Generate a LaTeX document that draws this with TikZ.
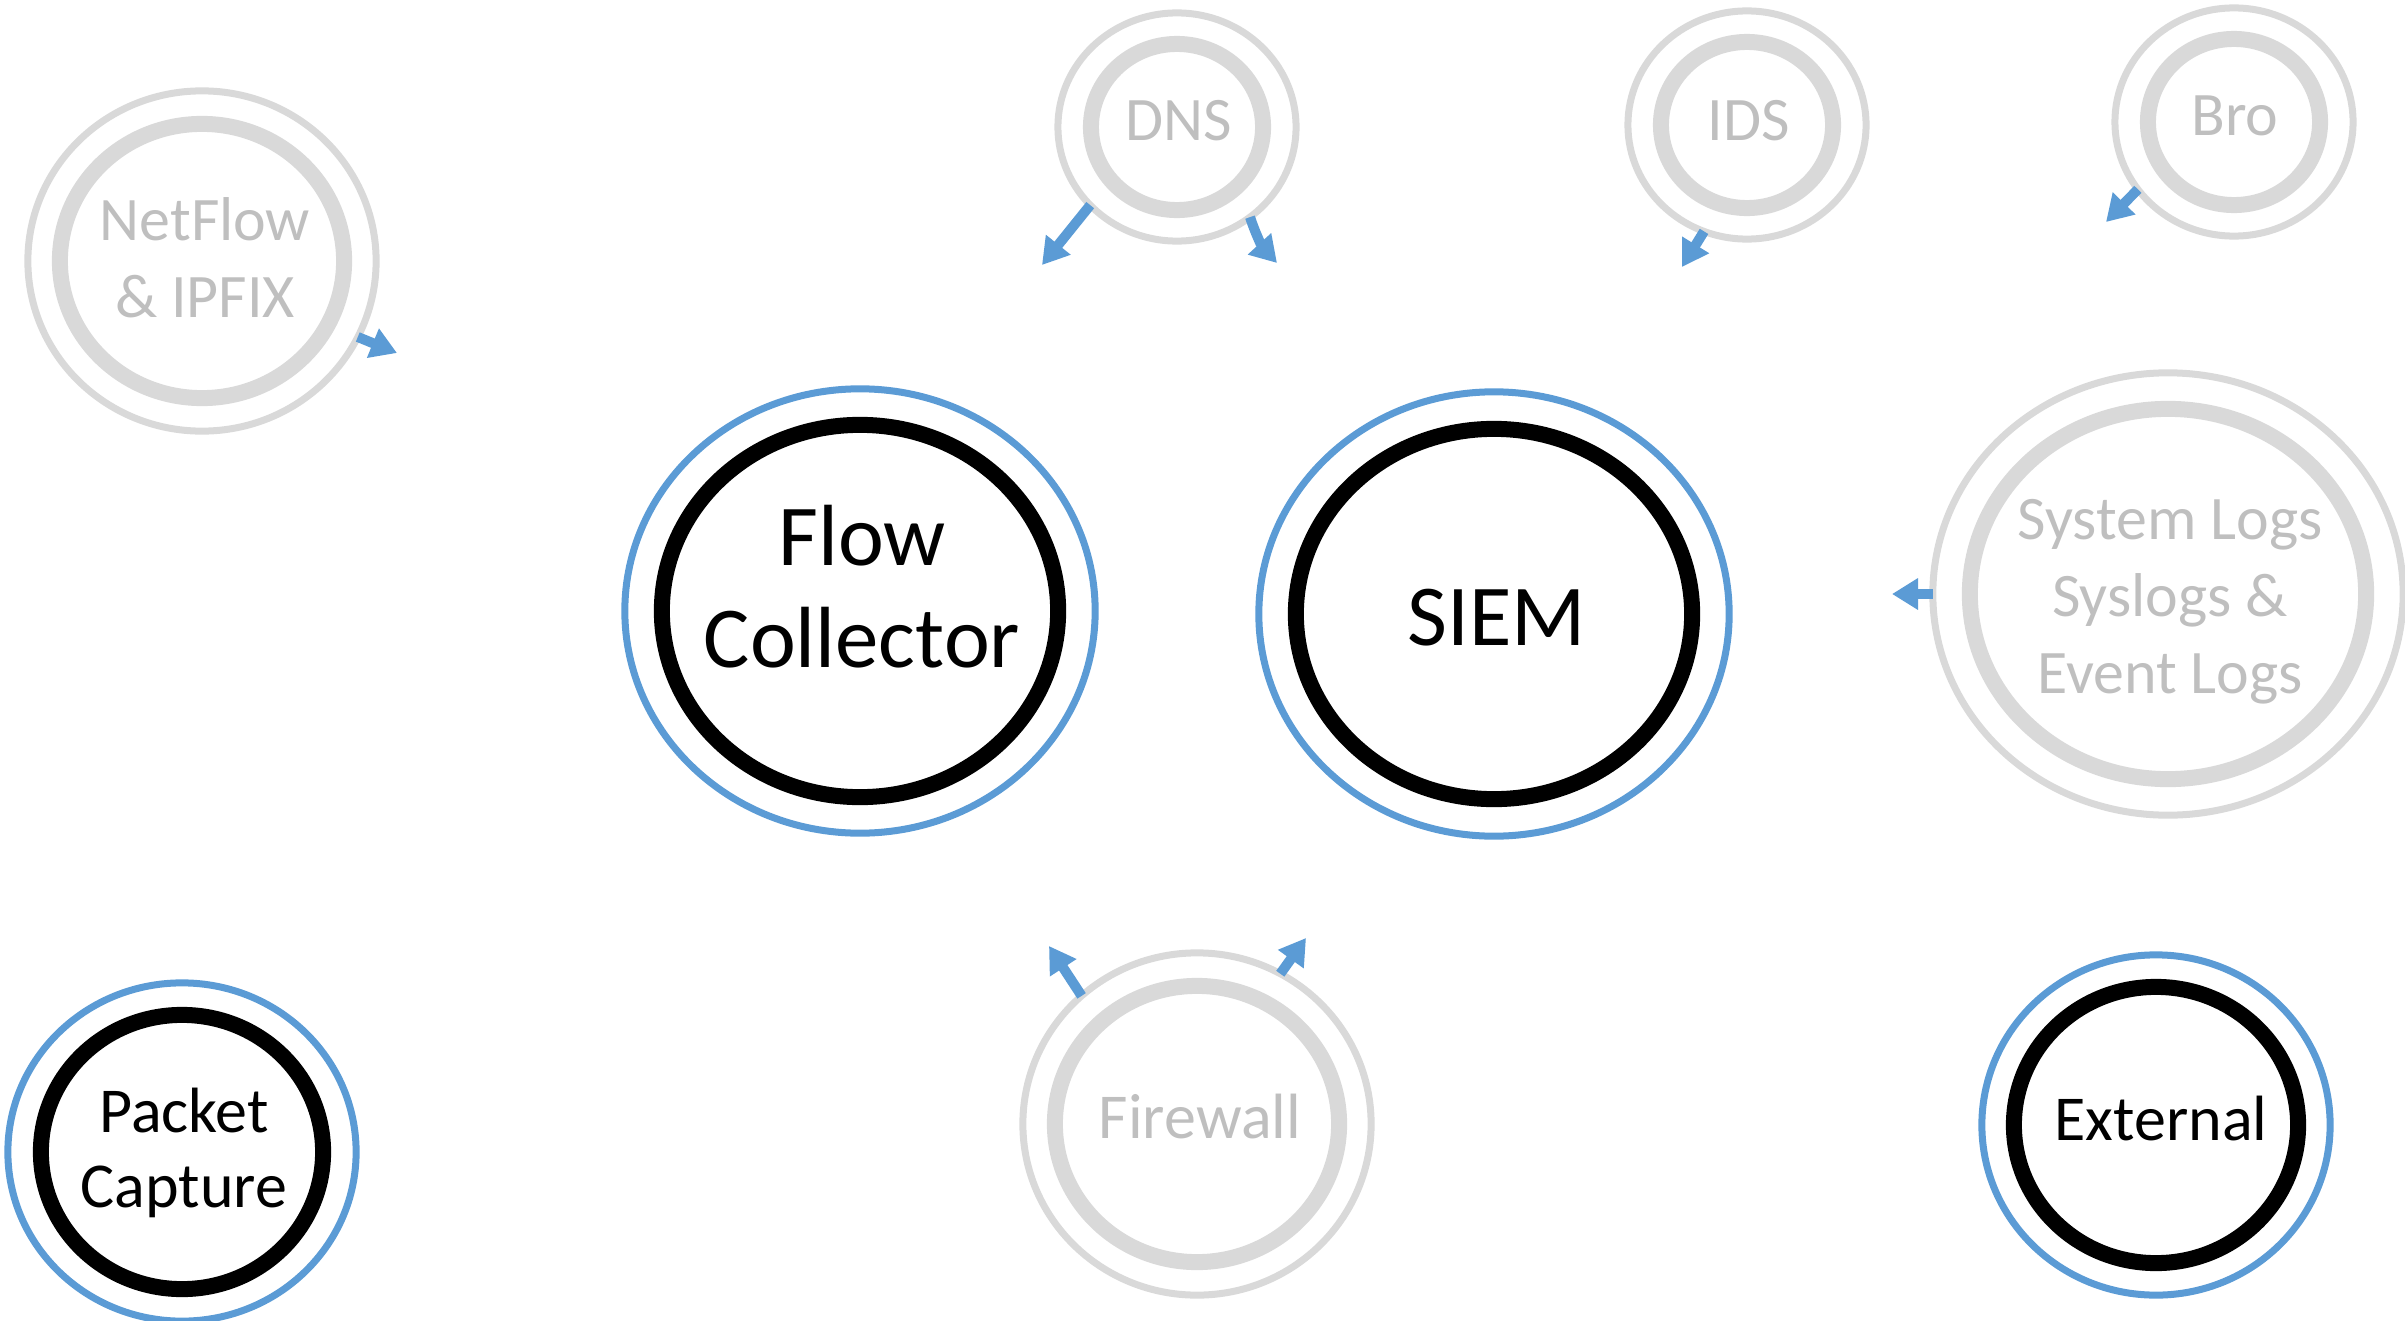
\documentclass[tikz,border=0pt]{standalone}
\usepackage{fontspec}
\setmainfont{Carlito}
\usetikzlibrary{shapes.geometric,arrows.meta}

\definecolor{feedblue}{HTML}{5B9BD5}
\definecolor{ringgray}{HTML}{D9D9D9}
\definecolor{labelgray}{HTML}{BFBFBF}

\tikzset{
  dims/.style 2 args={minimum width=#1*0.02cm, minimum height=#2*0.02cm},
  ring/.style={ellipse, inner sep=0pt, outer sep=0pt},
  srchalo/.style={ring, draw=ringgray, line width=0.07cm},
  srccore/.style={ring, draw=ringgray, line width=0.16cm},
  hubhalo/.style={ring, draw=feedblue, line width=0.07cm},
  hubcore/.style={ring, draw=black, line width=0.16cm},
  srclbl/.style={anchor=base, align=center, text=labelgray, font=\fontsize{17.6}{21.8}\selectfont},
  devlbl/.style={anchor=base, align=center, font=\fontsize{18.2}{21.3}\selectfont},
  hublbl/.style={anchor=base, align=center, font=\fontsize{24.7}{29}\selectfont},
  feed/.style={draw=feedblue, line width=0.1cm, -{Triangle[width=0.3cm,length=0.26cm]}},
}

\begin{document}
\begin{tikzpicture}[x=0.01cm, y=-0.01cm]
\useasboundingbox (0,0) rectangle (2405,1321);

% grey sources
\node[srchalo, dims={174}{170}] (netflow) at (202,261) {};
\node[srccore, dims={142}{137}] (netflow-core) at (netflow) {};
\node[srclbl] (netflow-lbl) at (205,317) {NetFlow\\\& IPFIX};

\node[srchalo, dims={119}{114}] (dns) at (1177,127) {};
\node[srccore, dims={86}{83}] (dns-core) at (dns) {};
\node[srclbl] (dns-lbl) at (1179,140) {DNS};

\node[srchalo, dims={119}{114}] (ids) at (1747,125) {};
\node[srccore, dims={86}{83}] (ids-core) at (ids) {};
\node[srclbl] (ids-lbl) at (1749,140) {IDS};

\node[srchalo, dims={119}{114}] (bro) at (2234,122) {};
\node[srccore, dims={86}{83}] (bro-core) at (bro) {};
\node[srclbl] (bro-lbl) at (2235,135) {Bro};

\node[srchalo, dims={235}{221}] (syslogs) at (2168,594) {};
\node[srccore, dims={198}{185}] (syslogs-core) at (syslogs) {};
\node[srclbl] (syslogs-lbl) at (2170,693) {System Logs\\Syslogs \&\\Event Logs};

\node[srchalo, dims={174}{171}] (firewall) at (1197,1124) {};
\node[srccore, dims={142}{138}] (firewall-core) at (firewall) {};
\node[srclbl, font=\fontsize{18.2}{21.3}\selectfont] (firewall-lbl) at (1200,1138) {Firewall};

% collectors
\node[hubhalo, dims={235}{222}] (collector) at (860,611) {};
\node[hubcore, dims={198}{186}] (collector-core) at (collector) {};
\node[hublbl] (collector-lbl) at (862,667) {Flow\\Collector};

\node[hubhalo, dims={235}{222}] (siem) at (1494,614) {};
\node[hubcore, dims={198}{185}] (siem-core) at (siem) {};
\node[hublbl] (siem-lbl) at (1497,645) {SIEM};

\node[hubhalo, dims={174}{169}] (pcap) at (182,1152) {};
\node[hubcore, dims={141}{137}] (pcap-core) at (pcap) {};
\node[devlbl] (pcap-lbl) at (184,1207) {Packet\\Capture};

\node[hubhalo, dims={174}{170}] (external) at (2156,1125) {};
\node[hubcore, dims={142}{138}] (external-core) at (external) {};
\node[devlbl] (external-lbl) at (2161,1140) {External};

% feed stubs
\coordinate (netflow-tip) at (397,353);
\coordinate (dns-tip-l) at (1042,265);
\coordinate (dns-tip-r) at (1277,263);
\coordinate (ids-tip) at (1682,267);
\coordinate (bro-tip) at (2106,222);
\coordinate (syslogs-tip) at (1892,594);
\coordinate (firewall-tip-l) at (1049,946);
\coordinate (firewall-tip-r) at (1306,938);

\draw[feed] (netflow.-26) -- (netflow-tip);
\draw[feed] (dns.222) -- (dns-tip-l);
\draw[feed] (dns.-51) to[bend right=12] (dns-tip-r);
\draw[feed] (ids.248) -- (ids-tip);
\draw[feed] (bro.215) -- (bro-tip);
\draw[feed] (syslogs.180) -- (syslogs-tip);
\draw[feed] (firewall.132) -- (firewall-tip-l);
\draw[feed] (firewall.61) -- (firewall-tip-r);
\end{tikzpicture}
\end{document}
